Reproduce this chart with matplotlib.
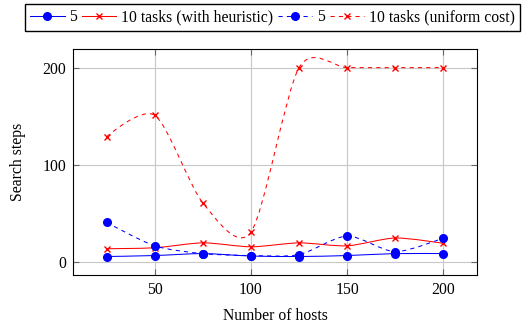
import numpy as np
import matplotlib.pyplot as plt
from matplotlib.path import Path
from matplotlib.patches import PathPatch
from matplotlib.lines import Line2D

plt.rcParams['font.family'] = ['Liberation Serif', 'DejaVu Serif']
plt.rcParams['font.size'] = 11.3

hosts = [25, 50, 75, 100, 125, 150, 175, 200]
heur_5 = [6, 7, 9, 6.5, 6, 7, 9, 9]
heur_10 = [14, 15, 20, 16, 20, 17, 25, 19.5]
unif_5 = [41, 17, 9, 7, 8, 27, 11, 25]
unif_10 = [129, 151, 61, 31, 200, 200, 200, 200]


def smooth_path(x, y, k=0.1375):
    # bezier through the points, like tikz "smooth"
    x = np.asarray(x, float)
    y = np.asarray(y, float)
    n = len(x)
    tx = np.zeros(n)
    ty = np.zeros(n)
    for i in range(1, n - 1):
        tx[i] = k * (x[i + 1] - x[i - 1])
        ty[i] = k * (y[i + 1] - y[i - 1])
    verts = [(x[0], y[0])]
    codes = [Path.MOVETO]
    for i in range(n - 1):
        verts += [(x[i] + tx[i], y[i] + ty[i]),
                  (x[i + 1] - tx[i + 1], y[i + 1] - ty[i + 1]),
                  (x[i + 1], y[i + 1])]
        codes += [Path.CURVE4] * 3
    return Path(verts, codes)


fig = plt.figure(figsize=(5.22, 3.25), dpi=100)
ax = fig.add_axes([0.1398, 0.1538, 0.774, 0.695])

series = [
    (heur_5, 'blue', '-', 'o', 5.5, '5'),
    (heur_10, 'red', '-', 'x', 3.8, '10 tasks (with heuristic)'),
    (unif_5, 'blue', (0, (4, 4)), 'o', 5.5, '5'),
    (unif_10, 'red', (0, (4, 4)), 'x', 3.8, '10 tasks (uniform cost)'),
]

handles = []
for vals, col, ls, mk, ms, lab in series:
    ax.add_patch(PathPatch(smooth_path(hosts, vals), fill=False,
                           edgecolor=col, linestyle=ls, lw=0.75, zorder=3))
    ax.plot(hosts, vals, linestyle='none', marker=mk, color=col,
            markersize=ms, markeredgewidth=1, zorder=4)
    handles.append(Line2D([], [], color=col, linestyle=ls, lw=0.75,
                          marker=mk, markersize=ms, markeredgewidth=1))

ax.set_xlim(7.5, 217.5)
ax.set_ylim(-13, 219)
ax.set_xticks([50, 100, 150, 200])
ax.set_yticks([0, 100, 200])
ax.grid(True, color='#c8c8c8', lw=0.8)
ax.set_axisbelow(True)
ax.tick_params(direction='in', top=True, right=True, length=4,
               color='#666666', pad=5)
ax.set_xlabel('Number of hosts', labelpad=7)
ax.set_ylabel('Search steps', labelpad=12)

fig.legend(handles, [s[5] for s in series], ncol=4, loc='upper center',
           bbox_to_anchor=(0.522, 1.012), frameon=True, fancybox=False,
           edgecolor='black', framealpha=1, handlelength=2.2,
           handletextpad=0.3, columnspacing=0.3, borderpad=0.35)

fig.savefig('out.png', dpi=100)
